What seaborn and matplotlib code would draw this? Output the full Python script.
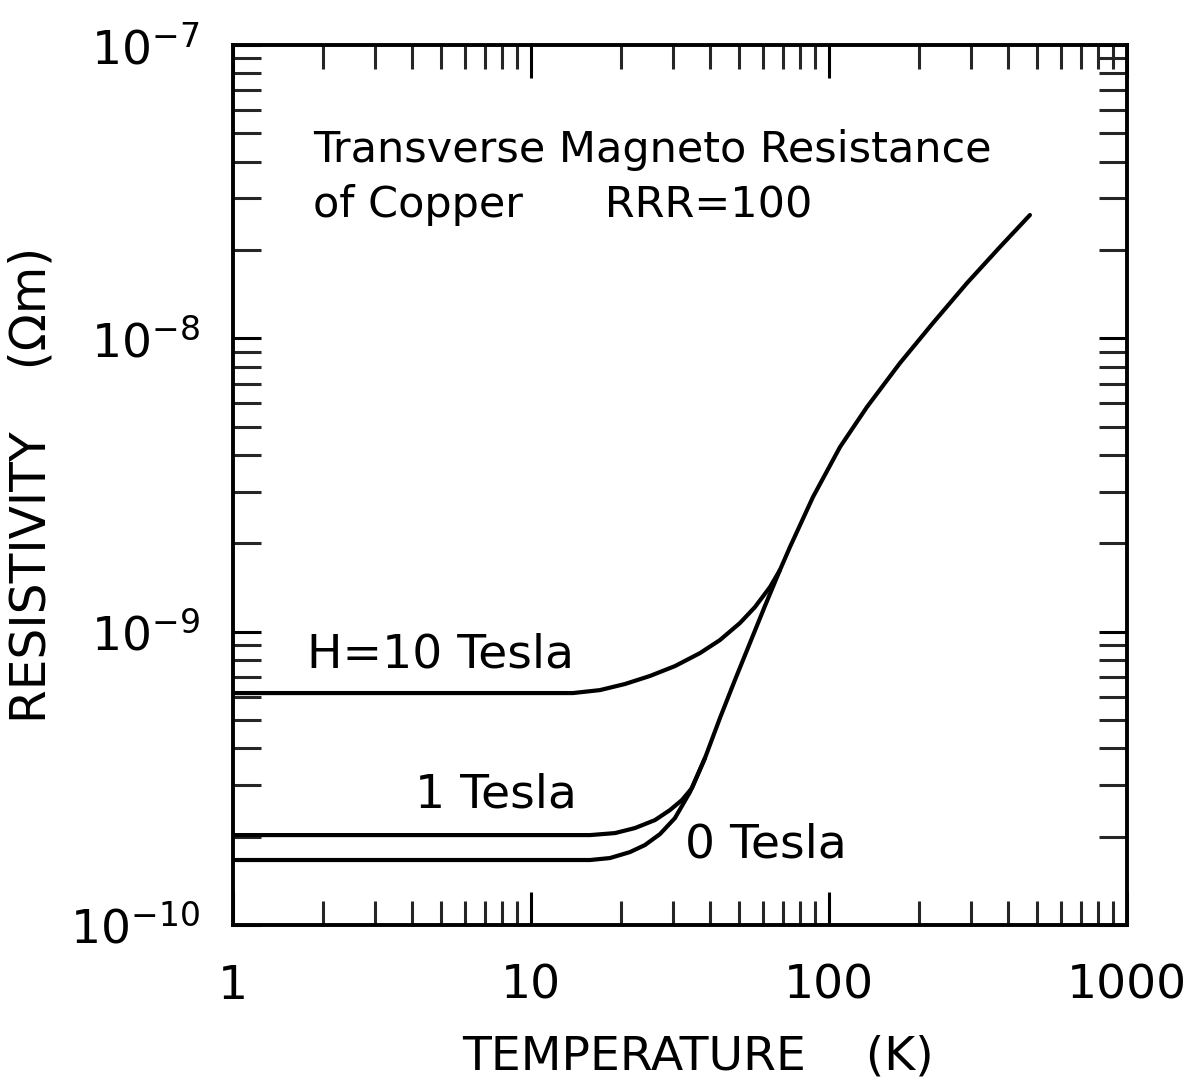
import matplotlib
matplotlib.use("Agg")
import matplotlib.pyplot as plt
import matplotlib.ticker as mticker
import numpy as np
import pandas as pd
import seaborn as sns

# ---- data ----
T_0T = [1, 10, 15.78, 18.41, 21.49, 24.13, 27.10, 30.42, 34.17, 38.37, 43.07,
        48.36, 54.30, 60.98, 68.48, 73.97, 88.38, 108.9, 134.1, 173.1, 223.4,
        290.5, 374.8, 472.6]
rho_0T = [1.665e-10, 1.665e-10, 1.665e-10, 1.691e-10, 1.772e-10, 1.873e-10,
          2.041e-10, 2.314e-10, 2.838e-10, 3.707e-10, 5.073e-10, 6.839e-10,
          9.145e-10, 1.223e-9, 1.622e-9, 1.942e-9, 2.877e-9, 4.259e-9,
          5.831e-9, 8.235e-9, 1.128e-8, 1.543e-8, 2.048e-8, 2.633e-8]

T_1T = [1, 10, 15.78, 19.14, 22.34, 26.07, 29.27, 32.11, 34.70, 38.37]
rho_1T = [2.025e-10, 2.025e-10, 2.025e-10, 2.057e-10, 2.140e-10, 2.278e-10,
          2.464e-10, 2.666e-10, 2.929e-10, 3.707e-10]

T_10T = [1, 10, 13.83, 17.04, 20.68, 25.07, 30.42, 36.91, 43.07, 50.27, 56.46,
         63.40, 68.48]
rho_10T = [6.175e-10, 6.175e-10, 6.175e-10, 6.32e-10, 6.63e-10, 7.06e-10,
           7.63e-10, 8.45e-10, 9.36e-10, 1.07e-9, 1.213e-9, 1.419e-9, 1.622e-9]

x_ticks = [1, 10, 100, 1000]
x_tick_labels = ["1", "10", "100", "1000"]
y_ticks = [1e-10, 1e-9, 1e-8, 1e-7]
y_tick_labels = [r"$\mathregular{10^{-10}}$", r"$\mathregular{10^{-9}}$",
                 r"$\mathregular{10^{-8}}$", r"$\mathregular{10^{-7}}$"]

title_lines = ["Transverse Magneto Resistance", "of Copper      RRR=100"]
curve_labels = ["H=10 Tesla", "1 Tesla", "0 Tesla"]
x_label = "TEMPERATURE    (K)"
y_label = "RESISTIVITY    (Ωm)"

# ---- style ----
sns.set_theme(style="ticks")
plt.rcParams["font.family"] = ["DejaVu Sans"]

fig = plt.figure(figsize=(11.99, 10.85), dpi=100)
ax = fig.add_axes([0.1943, 0.1475, 0.7456, 0.811])

df = pd.concat([
    pd.DataFrame({"T": T_0T, "rho": rho_0T, "H": "0"}),
    pd.DataFrame({"T": T_1T, "rho": rho_1T, "H": "1"}),
    pd.DataFrame({"T": T_10T, "rho": rho_10T, "H": "10"}),
], ignore_index=True)

sns.lineplot(data=df, x="T", y="rho", hue="H", units="H", estimator=None,
             sort=False, palette={"0": "black", "1": "black", "10": "black"},
             linewidth=3.0, legend=False, ax=ax)
for ln in ax.get_lines():
    ln.set_solid_joinstyle("round")
    ln.set_solid_capstyle("round")

ax.set_xscale("log")
ax.set_yscale("log")
ax.set_xlim(1, 1000)
ax.set_ylim(1e-10, 1e-7)

ax.xaxis.set_major_locator(mticker.FixedLocator(x_ticks))
ax.xaxis.set_major_formatter(mticker.FixedFormatter(x_tick_labels))
ax.yaxis.set_major_locator(mticker.FixedLocator(y_ticks))
ax.yaxis.set_major_formatter(mticker.FixedFormatter(y_tick_labels))
ax.xaxis.set_minor_locator(mticker.LogLocator(base=10, subs=np.arange(2, 10), numticks=20))
ax.yaxis.set_minor_locator(mticker.LogLocator(base=10, subs=np.arange(2, 10), numticks=20))
ax.xaxis.set_minor_formatter(mticker.NullFormatter())
ax.yaxis.set_minor_formatter(mticker.NullFormatter())

for s in ax.spines.values():
    s.set_linewidth(2.8)
    s.set_color("black")

ax.tick_params(axis="x", which="major", direction="in", length=24, width=2.2,
               top=True, bottom=True, pad=28, labelsize=34, colors="black")
ax.tick_params(axis="x", which="minor", direction="in", length=17, width=2.2,
               top=True, bottom=True)
ax.tick_params(axis="y", which="major", direction="in", length=20, width=2.2,
               left=True, right=True, pad=24, labelsize=34, colors="black")
ax.tick_params(axis="y", which="minor", direction="in", length=20, width=2.2,
               left=True, right=True)

ax.set_xlabel(x_label, fontsize=34, color="black")
ax.set_ylabel(y_label, fontsize=35, color="black")
ax.xaxis.set_label_coords(0.52, -0.125)
ax.yaxis.set_label_coords(-0.198, 0.5)

ax.text(0.0895, 0.881, title_lines[0], transform=ax.transAxes, fontsize=31,
        va="center", ha="left", color="black")
ax.text(0.0895, 0.818, title_lines[1], transform=ax.transAxes, fontsize=31,
        va="center", ha="left", color="black")
ax.text(0.083, 0.307, curve_labels[0], transform=ax.transAxes, fontsize=34,
        va="center", ha="left", color="black")
ax.text(0.2036, 0.148, curve_labels[1], transform=ax.transAxes, fontsize=34,
        va="center", ha="left", color="black")
ax.text(0.5056, 0.091, curve_labels[2], transform=ax.transAxes, fontsize=34,
        va="center", ha="left", color="black")

ax.set_facecolor("white")
fig.patch.set_facecolor("white")
fig.savefig("out.png", dpi=100)
